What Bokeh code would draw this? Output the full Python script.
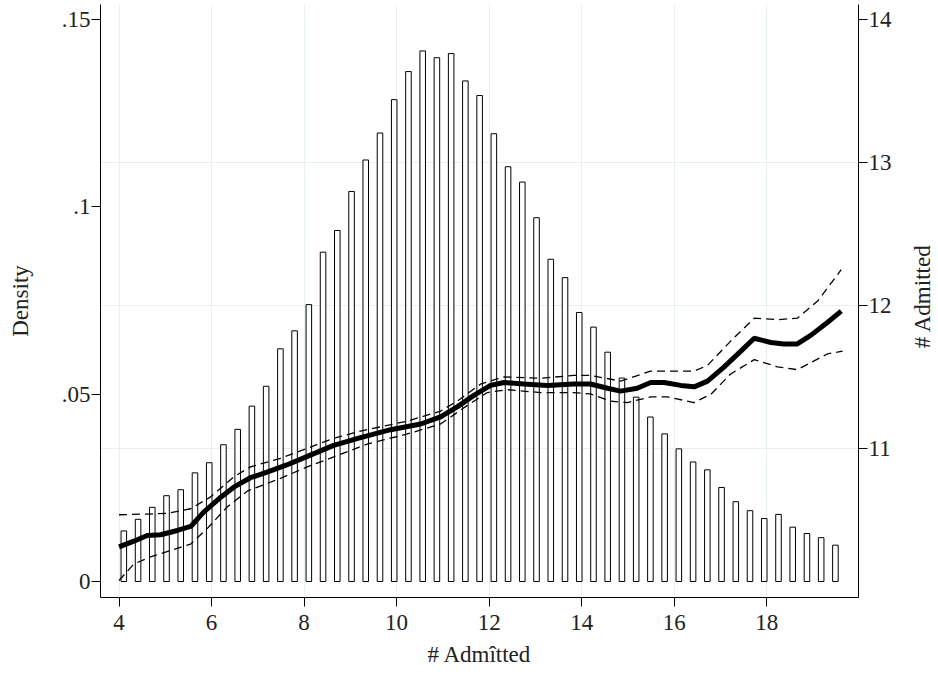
import math
from bokeh.plotting import figure
from bokeh.layouts import row
from bokeh.models import (Range1d, LinearAxis, FixedTicker, Grid, ColumnDataSource)
from bokeh.core.properties import value
from bokeh.embed import file_html
from bokeh.resources import INLINE

# ---- data ----
bin_centers = [4.104, 4.412, 4.719, 5.027, 5.334, 5.642, 5.950, 6.257, 6.565, 6.872,
               7.180, 7.488, 7.795, 8.103, 8.410, 8.718, 9.026, 9.333, 9.641, 9.948,
               10.256, 10.564, 10.871, 11.179, 11.486, 11.794, 12.102, 12.409, 12.717, 13.024,
               13.332, 13.640, 13.947, 14.255, 14.562, 14.870, 15.178, 15.485, 15.793, 16.100,
               16.408, 16.716, 17.023, 17.331, 17.638, 17.946, 18.254, 18.561, 18.869, 19.176,
               19.484]
density = [0.0135, 0.0166, 0.0198, 0.0229, 0.0245, 0.0290, 0.0317, 0.0365, 0.0406, 0.0468,
           0.0521, 0.0621, 0.0669, 0.0739, 0.0879, 0.0937, 0.1041, 0.1125, 0.1197, 0.1286,
           0.1361, 0.1416, 0.1398, 0.1409, 0.1336, 0.1297, 0.1195, 0.1107, 0.1066, 0.0971,
           0.0860, 0.0811, 0.0718, 0.0679, 0.0612, 0.0543, 0.0492, 0.0439, 0.0394, 0.0354,
           0.0319, 0.0298, 0.0251, 0.0213, 0.0189, 0.0168, 0.0179, 0.0145, 0.0128, 0.0117,
           0.0097]

fit_x = [4.00, 4.32, 4.61, 4.90, 5.26, 5.55, 5.83, 6.20, 6.48, 6.84, 7.20, 7.64, 8.07, 8.64,
         9.22, 9.87, 10.52, 10.95, 11.31, 11.67, 12.03, 12.32, 12.75, 13.26, 13.83, 14.19,
         14.56, 14.84, 15.20, 15.49, 15.78, 16.14, 16.43, 16.72, 17.08, 17.44, 17.73, 18.09,
         18.37, 18.66, 18.95, 19.31, 19.61]
fit_y = [10.31, 10.35, 10.39, 10.395, 10.425, 10.453, 10.553, 10.658, 10.728, 10.794, 10.833,
         10.885, 10.943, 11.02, 11.075, 11.13, 11.17, 11.22, 11.29, 11.37, 11.44, 11.46, 11.45,
         11.44, 11.45, 11.45, 11.42, 11.40, 11.42, 11.46, 11.46, 11.44, 11.43, 11.47, 11.57,
         11.68, 11.77, 11.74, 11.73, 11.73, 11.79, 11.88, 11.96]

hi_x = [4.00, 4.61, 5.04, 5.55, 5.98, 6.48, 6.84, 7.49, 8.07, 8.64, 9.22, 10.23, 10.95, 11.31,
        11.82, 12.32, 13.11, 13.83, 14.19, 14.84, 15.49, 15.92, 16.43, 16.72, 17.22, 17.73,
        18.23, 18.66, 19.10, 19.61]
hi_y = [10.535, 10.54, 10.545, 10.577, 10.66, 10.80, 10.87, 10.93, 11.00, 11.07, 11.12, 11.19,
        11.26, 11.33, 11.45, 11.50, 11.49, 11.51, 11.51, 11.47, 11.54, 11.54, 11.54, 11.58,
        11.75, 11.91, 11.90, 11.91, 12.03, 12.25]

lo_x = [4.00, 4.32, 4.68, 5.26, 5.55, 5.91, 6.34, 6.77, 7.49, 8.07, 8.64, 9.37, 10.23, 10.95,
        11.53, 11.96, 12.39, 13.11, 13.83, 14.19, 14.62, 14.99, 15.49, 15.85, 16.43, 16.80,
        17.22, 17.73, 18.23, 18.66, 19.31, 19.64]
lo_y = [10.075, 10.19, 10.24, 10.30, 10.33, 10.44, 10.59, 10.70, 10.79, 10.87, 10.94, 11.03,
        11.10, 11.17, 11.30, 11.39, 11.41, 11.39, 11.39, 11.38, 11.33, 11.32, 11.36, 11.36,
        11.32, 11.38, 11.52, 11.62, 11.57, 11.55, 11.66, 11.68]

x_ticks = [4, 6, 8, 10, 12, 14, 16, 18]
left_ticks = [0, 0.05, 0.1, 0.15]
left_tick_labels = {0: "0", 0.05: ".05", 0.1: ".1", 0.15: ".15"}
right_ticks = [11, 12, 13, 14]
right_title = "# Admitted"

FONT = "Liberation Serif"
FS = "23px"
GRID = "#e6eff1"
TXT = "#222222"

p = figure(width=908, height=675, output_backend="svg", toolbar_location=None,
           x_range=Range1d(3.6, 19.983), y_range=Range1d(-0.00427, 0.15400),
           min_border_left=100, min_border_right=50, min_border_top=4, min_border_bottom=78)
p.extra_y_ranges = {"right": Range1d(9.956, 14.105)}
p.outline_line_color = None
p.background_fill_color = "white"
p.border_fill_color = "white"

# grids
p.xgrid.ticker = FixedTicker(ticks=x_ticks)
p.xgrid.grid_line_color = GRID
p.ygrid.grid_line_color = None
rgrid = Grid(dimension=1, ticker=FixedTicker(ticks=[11, 12, 13]), y_range_name="right",
             grid_line_color=GRID)
p.add_layout(rgrid)

# histogram bars
src = ColumnDataSource(dict(x=bin_centers, top=density))
p.vbar(x="x", top="top", bottom=0, width=0.12, source=src,
       fill_color="white", line_color="black", line_width=1)

# fitted line with CI
p.line(hi_x, hi_y, y_range_name="right", line_color="black", line_width=1.3, line_dash="8 5")
p.line(lo_x, lo_y, y_range_name="right", line_color="black", line_width=1.3, line_dash="8 5")
p.line(fit_x, fit_y, y_range_name="right", line_color="black", line_width=5)

# axes styling
def style(ax):
    ax.axis_line_color = "black"
    ax.major_tick_line_color = "black"
    ax.minor_tick_line_color = None
    ax.major_tick_out = 9
    ax.major_tick_in = 0
    ax.major_label_text_font = FONT
    ax.major_label_text_font_size = FS
    ax.major_label_text_color = TXT
    ax.axis_label_text_font = FONT
    ax.axis_label_text_font_size = FS
    ax.axis_label_text_font_style = "normal"
    ax.axis_label_text_color = TXT

xa = p.xaxis[0]
xa.ticker = FixedTicker(ticks=x_ticks)
xa.axis_label = "# Adm\u00eetted"
style(xa)
xa.major_label_standoff = 8
xa.axis_label_standoff = 9

ya = p.yaxis[0]
ya.ticker = FixedTicker(ticks=left_ticks)
ya.major_label_overrides = left_tick_labels
ya.axis_label = "Density"
style(ya)
ya.major_label_standoff = 1
ya.axis_label_standoff = 26

# right axis: ticks and labels
ra = LinearAxis(y_range_name="right", ticker=FixedTicker(ticks=right_ticks))
style(ra)
ra.major_label_standoff = 1
p.add_layout(ra, "right")

# right-axis title in a narrow strip, reading bottom-to-top
t = figure(width=30, height=675, output_backend="svg", toolbar_location=None,
           x_axis_type=None, y_axis_type=None,
           x_range=Range1d(0, 30), y_range=Range1d(0, 675),
           min_border=0, min_border_left=0, min_border_right=0,
           min_border_top=0, min_border_bottom=0)
t.outline_line_color = None
t.grid.visible = False
t.background_fill_color = "white"
t.border_fill_color = "white"
t.text(x=[14], y=[343], text=[right_title], angle=math.pi / 2,
       text_align="center", text_baseline="middle",
       text_font=value(FONT), text_font_size=FS, text_color=TXT)

layout = row(p, t, spacing=0)
open("out.html", "w").write(file_html(layout, INLINE))
